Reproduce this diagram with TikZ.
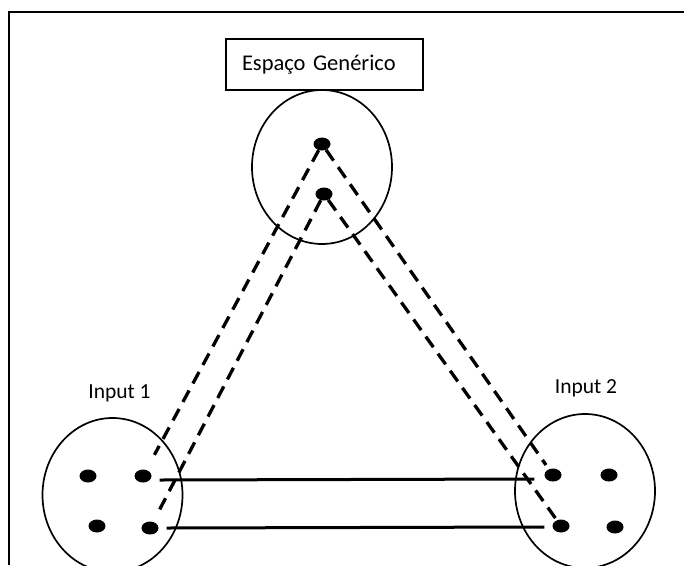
\documentclass[tikz,border=0pt]{standalone}
\usepackage{fontspec}
\setmainfont{Carlito}
\usepackage{tikz}
\usetikzlibrary{calc, shapes.geometric, positioning}

\tikzset{
  espaco/.style={draw, ellipse, line width=1.7pt, minimum width=140pt, minimum height=154pt, inner sep=0pt},
  ponto/.style={fill, ellipse, minimum width=17pt, minimum height=13pt, inner sep=0pt},
  liga/.style={line width=3.3pt, dash pattern=on 13pt off 8pt},
  par/.style={line width=3pt},
  rotulo/.style={anchor=base, font=\fontsize{21.5}{25}\selectfont}
}

\begin{document}
\begin{tikzpicture}[x=1pt, y=-1pt]
\useasboundingbox (0,0) rectangle (684,565);
\clip (0,0) rectangle (684,565);
\draw [line width=1.4pt] (684,12) -- (9,12) -- (9,565);

\node [draw, line width=1.4pt, minimum width=197pt, minimum height=51pt, text width=165pt, inner xsep=16pt, align=left,
       font=\fontsize{22.5}{27}\selectfont] (gen) at (324.5,64.5) {Espaço Genérico};

\node [espaco] (cg) at (322,167) {};
\node [espaco] (c1) at (112.5,495) {};
\node [espaco] (c2) at (585,491) {};

\node [rotulo] (in1) at (119.5,398) {Input 1};
\node [rotulo] (in2) at (586,393) {Input 2};

\node [ponto] (g1) at (322,144) {};
\node [ponto] (g2) at (324,194) {};

\node [ponto] (a1) at (88,476) {};
\node [ponto] (a2) at (143,476) {};
\node [ponto] (a3) at (97,526) {};
\node [ponto] (a4) at (150,528) {};

\node [ponto] (b1) at (553,475) {};
\node [ponto] (b2) at (609,475) {};
\node [ponto] (b3) at (561,526) {};
\node [ponto] (b4) at (615,527) {};

\draw [liga, shorten >=17pt] (g1) -- (a2);
\draw [liga, shorten >=14pt] (g2) -- (a4);
\draw [liga, shorten >=5pt] (g1) -- (b1);
\draw [liga] (g2) -- (b3);

\draw [par] ([yshift=-4pt, xshift=8pt]a2.east) -- ([yshift=-4pt, xshift=-10pt]b1.west);
\draw [par] ([xshift=8pt]a4.east) -- ([yshift=-1pt, xshift=-8pt]b3.west);
\end{tikzpicture}
\end{document}
